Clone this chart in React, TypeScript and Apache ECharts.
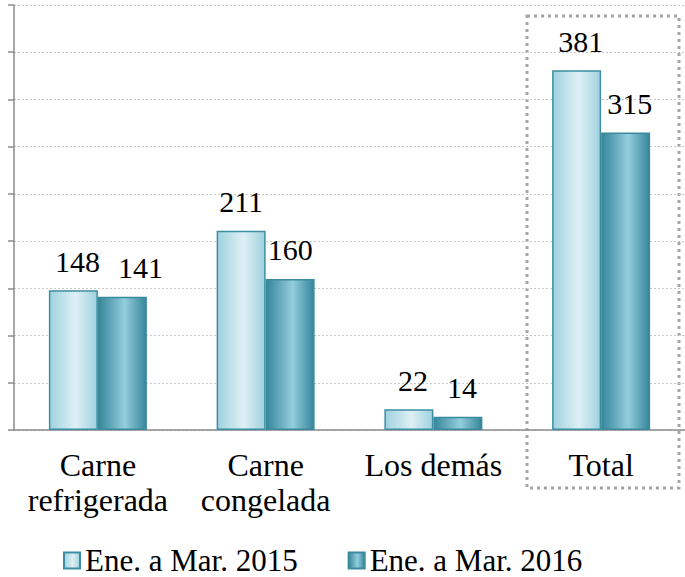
import React, { useEffect, useRef } from "react";
import * as echarts from "echarts";

const categories = ["Carne\nrefrigerada", "Carne\ncongelada", "Los demás", "Total"];
const seriesNames = ["Ene. a Mar. 2015", "Ene. a Mar. 2016"];
const values2015 = [148, 211, 22, 381];
const values2016 = [141, 160, 14, 315];

const SERIF = "Liberation Serif";

function grad(edge: string, mid: string) {
  return new echarts.graphic.LinearGradient(0, 0, 1, 0, [
    { offset: 0, color: edge },
    { offset: 0.55, color: mid },
    { offset: 1, color: edge },
  ]);
}

export default function App() {
  const ref = useRef<HTMLDivElement>(null);
  useEffect(() => {
    document.body.style.margin = "0";
    if (!ref.current) return;
    const chart = echarts.init(ref.current, null, { renderer: "svg" });
    const labelBase = {
      show: true,
      position: "top" as const,
      distance: 14,
      fontFamily: SERIF,
      fontSize: 30,
      color: "#000",
      offset: [4, 0],
    };
    const mk = (vals: number[], extraOffsets: Record<number, number[]>) =>
      vals.map((v, i) =>
        extraOffsets[i] ? { value: v, label: { offset: extraOffsets[i] } } : v
      );
    chart.setOption({
      animation: false,
      textStyle: { fontFamily: SERIF },
      grid: { left: 14, top: 5, height: 425, width: 680, containLabel: false },
      legend: {
        left: 63,
        top: 545,
        padding: 0,
        itemWidth: 16,
        itemHeight: 16,
        itemGap: 50,
        icon: "rect",
        textStyle: { fontFamily: SERIF, fontSize: 31, lineHeight: 28, color: "#000" },
        data: seriesNames,
      },
      xAxis: {
        type: "category",
        data: categories,
        axisLine: { lineStyle: { color: "#8c8c8c", width: 1.5 } },
        axisTick: { show: false },
        axisLabel: {
          interval: 0,
          fontFamily: SERIF,
          fontSize: 32,
          lineHeight: 35,
          color: "#000",
          margin: 17,
        },
      },
      yAxis: {
        type: "value",
        min: 0,
        max: 450,
        interval: 50,
        axisLine: { show: true, lineStyle: { color: "#8c8c8c", width: 1.5 } },
        axisTick: { show: true, inside: false, length: 6, lineStyle: { color: "#8c8c8c", width: 1.5 } },
        axisLabel: { show: false },
        splitLine: { lineStyle: { color: "#c8c8c8", type: [2, 2], width: 1 } },
      },
      series: [
        {
          name: seriesNames[0],
          type: "bar",
          barWidth: 49,
          barGap: "0%",
          data: mk(values2015, { 1: [0, 0] }),
          itemStyle: { color: grad("#9fd2df", "#def0f5"), borderColor: "#3d8ea3", borderWidth: 1.5 },
          label: labelBase,
        },
        {
          name: seriesNames[1],
          type: "bar",
          barWidth: 49,
          barGap: "0%",
          data: mk(values2016, { 0: [18, 0], 1: [0, 0] }),
          itemStyle: { color: grad("#37869b", "#92cddc"), borderColor: "#3a8a9e", borderWidth: 1.5 },
          label: labelBase,
        },
      ],
      graphic: [
        {
          type: "rect",
          shape: { x: 527, y: 16, width: 152, height: 472 },
          style: { fill: "none", stroke: "#a6a6a6", lineWidth: 3, lineDash: [3, 4] },
          silent: true,
        },
      ],
    });
    return () => chart.dispose();
  }, []);
  return <div ref={ref} style={{ width: 685, height: 577 }} />;
}
